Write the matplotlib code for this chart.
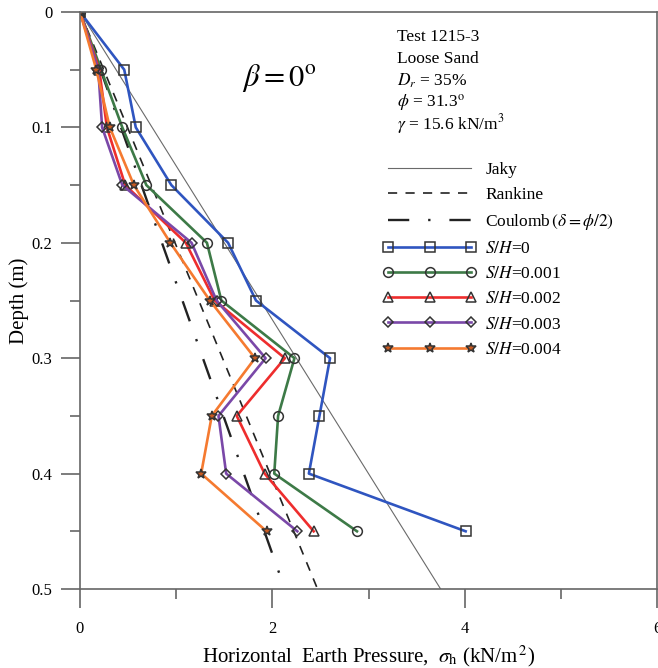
import matplotlib
matplotlib.use("Agg")
import matplotlib.pyplot as plt
from matplotlib.ticker import MultipleLocator, FixedLocator, FixedFormatter

plt.rcParams["font.family"] = ["Liberation Serif", "DejaVu Serif"]
plt.rcParams["mathtext.fontset"] = "stix"

# measured lateral pressure profiles (kN/m^2) against depth (m)
depth = [0.0, 0.05, 0.10, 0.15, 0.20, 0.25, 0.30, 0.35, 0.40, 0.45]
sigma_sh0 = [0.0, 0.46, 0.58, 0.95, 1.54, 1.83, 2.60, 2.49, 2.38, 4.01]
sigma_sh001 = [0.0, 0.22, 0.44, 0.69, 1.32, 1.47, 2.23, 2.06, 2.02, 2.88]
sigma_sh002 = [0.0, 0.20, 0.28, 0.47, 1.10, 1.40, 2.13, 1.63, 1.92, 2.43]
sigma_sh003 = [0.0, 0.19, 0.23, 0.44, 1.16, 1.42, 1.93, 1.44, 1.52, 2.26]
sigma_sh004 = [0.0, 0.17, 0.31, 0.56, 0.94, 1.35, 1.82, 1.37, 1.26, 1.94]
series_labels = [r"$S/H$=0", r"$S/H$=0.001", r"$S/H$=0.002",
                 r"$S/H$=0.003", r"$S/H$=0.004"]

# theoretical distributions, linear from the surface
theory_depth = [0.0, 0.5]
jaky = [0.0, 3.75]
rankine = [0.0, 2.47]
coulomb = [0.0, 2.13]

info_lines = ["Test 1215-3", "Loose Sand", r"$D_r$ = 35%",
              r"$\phi$ = 31.3$^{\rm o}$", r"$\gamma$ = 15.6 kN/m$^3$"]

fig = plt.figure(figsize=(6.58, 6.68), dpi=100)
ax = fig.add_axes([80 / 658, 1 - 589 / 668, 577 / 658, 577 / 668])

ax.plot(jaky, theory_depth, color="#6a6a6a", lw=0.8, label="Jaky")
ax.plot(rankine, theory_depth, color="#222222", lw=1.2,
        dashes=(5.5, 5.0), label="Rankine")
ax.plot(coulomb, theory_depth, color="#222222", lw=1.7,
        dashes=(9.0, 8.0, 1.0, 8.0), label=r"Coulomb$\,(\delta = \phi/2)$")

styles = [
    (sigma_sh0, "#2f55c0", "s", "none", 7),
    (sigma_sh001, "#3d7a47", "o", "none", 7),
    (sigma_sh002, "#ee2d2d", "^", "none", 7),
    (sigma_sh003, "#7a48a8", "D", "none", 5.5),
    (sigma_sh004, "#f57a30", "*", "#c85a20", 7.5),
]
for (vals, col, mk, face, ms), lab in zip(styles, series_labels):
    ax.plot(vals, depth, color=col, lw=1.9, marker=mk, markersize=ms,
            markerfacecolor=face, markeredgecolor="#333333",
            markeredgewidth=1.1, label=lab)

ax.set_xlim(0, 6)
ax.set_ylim(0.5, 0)
ax.xaxis.set_major_locator(FixedLocator([0, 2, 4, 6]))
ax.xaxis.set_major_formatter(FixedFormatter(["0", "2", "4", "6"]))
ax.xaxis.set_minor_locator(MultipleLocator(1))
ax.yaxis.set_major_locator(FixedLocator([0, 0.1, 0.2, 0.3, 0.4, 0.5]))
ax.yaxis.set_major_formatter(FixedFormatter(["0", "0.1", "0.2", "0.3", "0.4", "0.5"]))
ax.yaxis.set_minor_locator(MultipleLocator(0.05))

ax.tick_params(which="both", direction="out", color="#666666", width=1.2,
               labelsize=12, top=False, right=False)
ax.tick_params(which="major", length=14, pad=6)
ax.tick_params(axis="x", which="major", pad=9)
ax.tick_params(which="minor", length=7)
for sp in ax.spines.values():
    sp.set_color("#666666")
    sp.set_linewidth(1.2)

ax.set_xlabel(r"Horizontal  Earth Pressure,  $\sigma_{\rm h}$ (kN/m$^{\,2}$)",
              fontsize=15, labelpad=5)
ax.set_ylabel("Depth (m)", fontsize=15, labelpad=2)

ax.text(0.345, 0.886, r"$\beta = 0^{\rm o}$", transform=ax.transAxes,
        fontsize=22, ha="center", va="center")

for i, line in enumerate(info_lines):
    ax.text(0.549, 0.957 - i * 0.0378, line, transform=ax.transAxes,
            fontsize=12.5, ha="left", va="center")

ax.legend(loc="upper left", bbox_to_anchor=(0.525, 0.741), frameon=False,
          fontsize=12.5, handlelength=5.4, handletextpad=0.5,
          labelspacing=0.52, numpoints=3, borderpad=0, borderaxespad=0)

fig.savefig("out.png", dpi=100)
